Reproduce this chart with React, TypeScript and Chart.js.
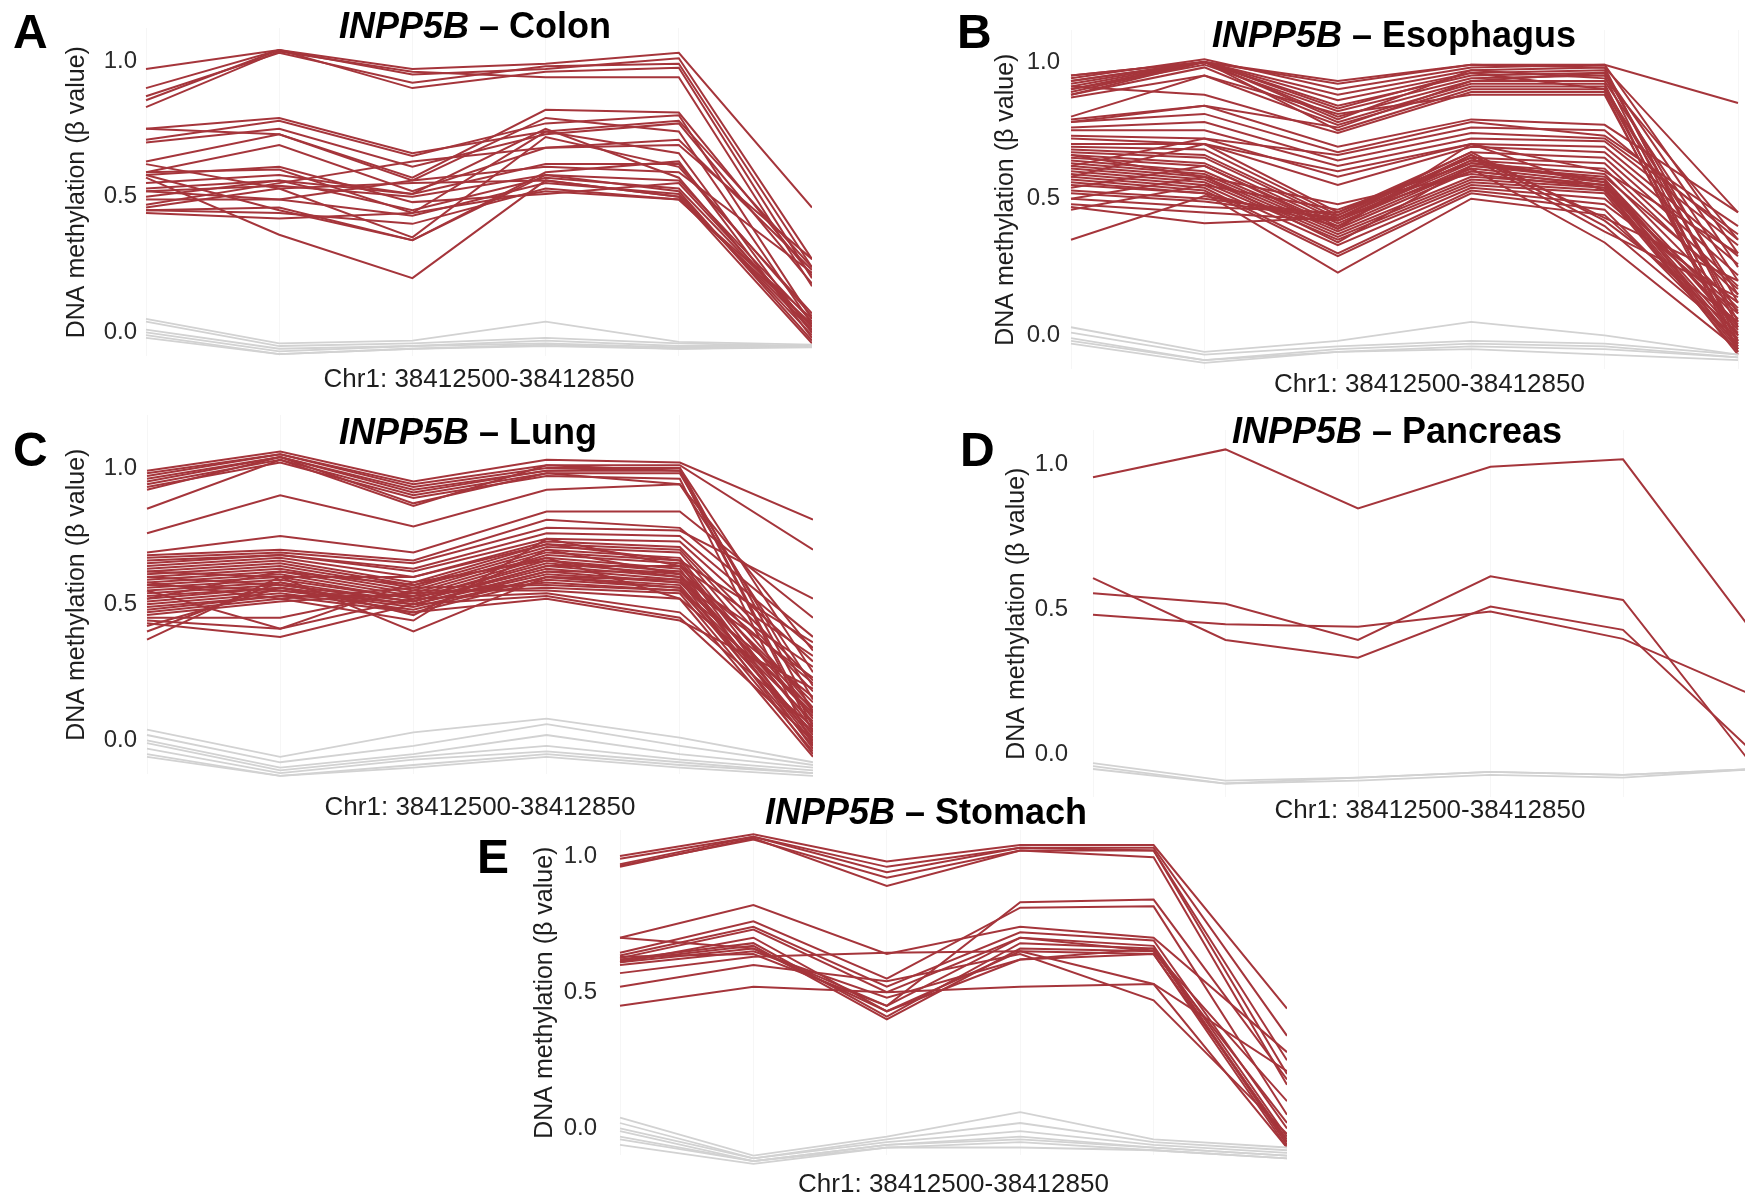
import React, { useEffect, useRef } from 'react';
import { Chart, registerables } from 'chart.js';

Chart.register(...registerables);

const FONT = "'Liberation Sans', Arial, Helvetica, sans-serif";
const RED = '#a5353b';
const GRAY = '#d2d2d2';

const gene = 'INPP5B';
const tissues = ['Colon', 'Esophagus', 'Lung', 'Pancreas', 'Stomach'];
const panelLetters = ['A', 'B', 'C', 'D', 'E'];
const xAxisLabel = 'Chr1: 38412500-38412850';
const yAxisLabel = 'DNA methylation (β value)';
const cpgIndex = [1, 2, 3, 4, 5, 6];
const yTickValues = [0, 0.5, 1];

// ---------- Colon ----------
const colonHigh: number[][] = [
  [0.97, 1.04, 0.97, 0.99, 1.03, 0.46],
  [0.90, 1.04, 0.95, 0.97, 1.01, 0.27],
  [0.87, 1.03, 0.92, 0.98, 0.99, 0.24],
  [0.855, 1.04, 0.90, 0.96, 0.975, 0.20],
  [0.83, 1.035, 0.96, 0.94, 0.94, 0.17],
  [0.75, 0.79, 0.66, 0.74, 0.78, 0.24],
  [0.75, 0.73, 0.57, 0.82, 0.81, 0.21],
  [0.71, 0.78, 0.65, 0.77, 0.80, 0.05],
  [0.70, 0.75, 0.61, 0.73, 0.77, 0.18],
  [0.63, 0.73, 0.56, 0.79, 0.74, 0.03],
  [0.59, 0.69, 0.52, 0.68, 0.71, 0.23],
  [0.59, 0.60, 0.44, 0.74, 0.66, 0.00],
  [0.58, 0.45, 0.34, 0.59, 0.63, -0.02],
  [0.57, 0.36, 0.20, 0.56, 0.50, -0.04],
  [0.53, 0.56, 0.51, 0.62, 0.62, 0.06],
  [0.52, 0.54, 0.50, 0.58, 0.56, 0.04],
  [0.50, 0.56, 0.45, 0.57, 0.53, 0.02],
  [0.49, 0.49, 0.43, 0.55, 0.51, -0.01],
  [0.46, 0.53, 0.55, 0.56, 0.50, 0.01],
  [0.45, 0.44, 0.40, 0.53, 0.49, 0.03],
  [0.45, 0.46, 0.34, 0.58, 0.52, -0.03],
  [0.44, 0.42, 0.44, 0.52, 0.49, 0.05],
  [0.62, 0.53, 0.35, 0.72, 0.61, 0.07],
  [0.58, 0.61, 0.48, 0.51, 0.55, 0.02],
  [0.52, 0.49, 0.56, 0.61, 0.59, 0.22],
  [0.47, 0.55, 0.63, 0.68, 0.69, 0.27],
  [0.55, 0.58, 0.51, 0.75, 0.57, 0.00],
];
const colonLow: number[][] = [
  [0.05, -0.04, -0.03, 0.04, -0.035, -0.045],
  [0.04, -0.05, -0.04, -0.02, -0.04, -0.05],
  [0.01, -0.06, -0.05, -0.03, -0.05, -0.05],
  [0.00, -0.07, -0.05, -0.04, -0.055, -0.05],
  [-0.01, -0.08, -0.06, -0.05, -0.06, -0.055],
  [-0.02, -0.08, -0.06, -0.045, -0.06, -0.05],
];

// ---------- Esophagus ----------
const esophagusHigh: number[][] = [
  [0.95, 1.00, 0.92, 0.99, 0.99, 0.85],
  [0.94, 1.01, 0.90, 0.98, 0.99, 0.30],
  [0.93, 1.00, 0.88, 0.97, 0.98, 0.45],
  [0.92, 1.00, 0.86, 0.96, 0.97, 0.05],
  [0.91, 1.00, 0.84, 0.95, 0.96, 0.12],
  [0.90, 0.99, 0.82, 0.94, 0.95, -0.02],
  [0.89, 1.00, 0.80, 0.93, 0.93, 0.20],
  [0.88, 0.98, 0.78, 0.92, 0.92, -0.05],
  [0.87, 0.95, 0.77, 0.91, 0.91, 0.08],
  [0.93, 1.00, 0.75, 0.90, 0.90, 0.00],
  [0.91, 0.88, 0.74, 0.89, 0.89, -0.06],
  [0.95, 1.00, 0.79, 0.97, 0.94, 0.35],
  [0.90, 1.00, 0.93, 0.99, 0.98, 0.03],
  [0.88, 1.00, 0.83, 0.96, 0.90, 0.15],
  [0.80, 0.95, 0.81, 0.88, 0.88, -0.03],
  [0.78, 0.84, 0.76, 0.93, 0.96, 0.25],
  [0.79, 0.84, 0.69, 0.79, 0.77, 0.45],
  [0.78, 0.81, 0.67, 0.78, 0.73, 0.40],
  [0.76, 0.78, 0.64, 0.74, 0.72, 0.37],
  [0.75, 0.75, 0.62, 0.72, 0.71, 0.33],
  [0.73, 0.72, 0.58, 0.70, 0.69, 0.29],
  [0.72, 0.70, 0.55, 0.69, 0.67, 0.26],
  [0.70, 0.70, 0.45, 0.67, 0.65, 0.22],
  [0.69, 0.68, 0.44, 0.65, 0.63, 0.18],
  [0.68, 0.66, 0.43, 0.64, 0.61, 0.15],
  [0.67, 0.65, 0.42, 0.63, 0.59, 0.10],
  [0.66, 0.63, 0.41, 0.62, 0.57, 0.06],
  [0.65, 0.62, 0.40, 0.61, 0.56, 0.03],
  [0.64, 0.60, 0.39, 0.60, 0.55, 0.00],
  [0.63, 0.59, 0.38, 0.58, 0.55, -0.02],
  [0.62, 0.58, 0.37, 0.57, 0.54, -0.04],
  [0.61, 0.57, 0.36, 0.56, 0.53, -0.05],
  [0.60, 0.56, 0.35, 0.55, 0.52, -0.06],
  [0.59, 0.55, 0.33, 0.54, 0.50, 0.08],
  [0.58, 0.54, 0.30, 0.53, 0.48, 0.12],
  [0.57, 0.53, 0.29, 0.52, 0.46, -0.03],
  [0.56, 0.52, 0.23, 0.50, 0.44, 0.01],
  [0.55, 0.52, 0.40, 0.66, 0.43, 0.20],
  [0.53, 0.50, 0.44, 0.67, 0.42, 0.05],
  [0.52, 0.49, 0.43, 0.66, 0.40, -0.01],
  [0.50, 0.47, 0.45, 0.65, 0.38, 0.14],
  [0.48, 0.45, 0.42, 0.61, 0.34, -0.05],
  [0.47, 0.41, 0.43, 0.60, 0.55, 0.04],
  [0.46, 0.55, 0.46, 0.63, 0.57, 0.02],
  [0.35, 0.51, 0.42, 0.64, 0.56, -0.04],
  [0.58, 0.70, 0.60, 0.70, 0.60, 0.30],
  [0.62, 0.72, 0.66, 0.76, 0.75, 0.35],
  [0.54, 0.62, 0.39, 0.70, 0.53, 0.09],
  [0.66, 0.58, 0.48, 0.59, 0.54, -0.07],
  [0.50, 0.58, 0.34, 0.62, 0.58, 0.17],
];
const esophagusLow: number[][] = [
  [0.03, -0.06, -0.02, 0.05, 0.00, -0.07],
  [0.01, -0.07, -0.04, -0.02, -0.03, -0.07],
  [-0.01, -0.09, -0.05, -0.03, -0.04, -0.08],
  [-0.02, -0.09, -0.06, -0.04, -0.05, -0.08],
  [-0.03, -0.10, -0.06, -0.05, -0.07, -0.09],
];

// ---------- Lung ----------
const lungHigh: number[][] = [
  [0.99, 1.06, 0.95, 1.03, 1.02, 0.81],
  [0.98, 1.05, 0.94, 1.01, 1.01, 0.70],
  [0.97, 1.05, 0.93, 1.00, 1.00, 0.25],
  [0.96, 1.04, 0.92, 0.99, 1.00, 0.10],
  [0.95, 1.04, 0.91, 0.99, 0.99, 0.03],
  [0.94, 1.03, 0.90, 0.98, 0.98, 0.15],
  [0.93, 1.02, 0.89, 0.97, 0.96, -0.02],
  [0.92, 1.04, 0.87, 0.98, 0.94, 0.20],
  [0.85, 1.03, 0.86, 1.01, 0.99, 0.05],
  [0.76, 0.90, 0.785, 0.92, 0.94, 0.33],
  [0.69, 0.75, 0.69, 0.84, 0.84, 0.45],
  [0.68, 0.70, 0.66, 0.81, 0.78, 0.38],
  [0.67, 0.69, 0.65, 0.78, 0.77, 0.52],
  [0.66, 0.68, 0.63, 0.76, 0.75, 0.34],
  [0.65, 0.68, 0.62, 0.74, 0.73, 0.29],
  [0.64, 0.67, 0.60, 0.73, 0.71, 0.22],
  [0.63, 0.66, 0.58, 0.72, 0.70, 0.18],
  [0.62, 0.65, 0.57, 0.71, 0.69, 0.12],
  [0.61, 0.64, 0.56, 0.70, 0.67, 0.08],
  [0.60, 0.63, 0.55, 0.69, 0.66, 0.04],
  [0.59, 0.62, 0.54, 0.68, 0.65, 0.00],
  [0.58, 0.61, 0.53, 0.67, 0.63, -0.03],
  [0.57, 0.60, 0.52, 0.66, 0.62, 0.14],
  [0.56, 0.59, 0.52, 0.65, 0.61, 0.06],
  [0.55, 0.58, 0.51, 0.64, 0.60, 0.02],
  [0.54, 0.57, 0.51, 0.63, 0.59, -0.05],
  [0.53, 0.56, 0.50, 0.62, 0.58, 0.10],
  [0.52, 0.56, 0.50, 0.61, 0.58, 0.23],
  [0.51, 0.55, 0.49, 0.60, 0.57, 0.01],
  [0.50, 0.54, 0.48, 0.60, 0.56, -0.02],
  [0.49, 0.53, 0.47, 0.59, 0.56, 0.07],
  [0.48, 0.53, 0.53, 0.58, 0.55, 0.16],
  [0.47, 0.52, 0.56, 0.57, 0.55, 0.03],
  [0.46, 0.51, 0.54, 0.56, 0.54, -0.04],
  [0.45, 0.45, 0.55, 0.55, 0.52, 0.12],
  [0.44, 0.41, 0.52, 0.54, 0.47, 0.05],
  [0.43, 0.38, 0.50, 0.53, 0.45, 0.00],
  [0.42, 0.56, 0.47, 0.52, 0.44, 0.19],
  [0.40, 0.58, 0.46, 0.70, 0.61, -0.01],
  [0.37, 0.60, 0.40, 0.60, 0.59, 0.09],
  [0.55, 0.41, 0.58, 0.66, 0.60, 0.27],
  [0.58, 0.52, 0.44, 0.74, 0.64, 0.31],
  [0.62, 0.60, 0.60, 0.72, 0.66, 0.36],
  [0.52, 0.62, 0.57, 0.67, 0.52, -0.06],
  [0.57, 0.55, 0.50, 0.62, 0.62, 0.21],
  [0.60, 0.57, 0.51, 0.64, 0.64, 0.11],
];
const lungLow: number[][] = [
  [0.04, -0.06, 0.03, 0.08, 0.01, -0.08],
  [0.02, -0.08, -0.02, 0.06, -0.02, -0.09],
  [0.00, -0.10, -0.05, 0.02, -0.05, -0.10],
  [-0.01, -0.11, -0.06, -0.02, -0.07, -0.11],
  [-0.03, -0.12, -0.07, -0.04, -0.08, -0.12],
  [-0.05, -0.13, -0.09, -0.05, -0.09, -0.12],
  [-0.06, -0.13, -0.10, -0.06, -0.10, -0.13],
];

// ---------- Pancreas ----------
const pancreasHigh: number[][] = [
  [0.954, 1.05, 0.847, 0.99, 1.016, 0.41],
  [0.607, 0.394, 0.333, 0.509, 0.429, 0.0],
  [0.555, 0.519, 0.394, 0.613, 0.532, -0.05],
  [0.481, 0.448, 0.44, 0.492, 0.398, 0.2],
];
const pancreasLow: number[][] = [
  [-0.03, -0.09, -0.08, -0.06, -0.07, -0.05],
  [-0.04, -0.10, -0.08, -0.06, -0.07, -0.05],
  [-0.05, -0.10, -0.09, -0.07, -0.08, -0.05],
];

// ---------- Stomach ----------
const stomachHigh: number[][] = [
  [1.00, 1.08, 0.98, 1.04, 1.04, 0.44],
  [0.99, 1.07, 0.96, 1.03, 1.03, 0.34],
  [0.97, 1.07, 0.94, 1.03, 1.02, 0.25],
  [0.965, 1.06, 0.92, 1.02, 1.02, 0.20],
  [0.96, 1.065, 0.89, 1.02, 0.995, 0.16],
  [0.70, 0.82, 0.64, 0.74, 0.70, 0.28],
  [0.70, 0.66, 0.45, 0.83, 0.84, 0.18],
  [0.645, 0.76, 0.55, 0.81, 0.815, 0.05],
  [0.635, 0.74, 0.52, 0.72, 0.69, 0.00],
  [0.625, 0.73, 0.50, 0.70, 0.67, -0.03],
  [0.62, 0.68, 0.41, 0.68, 0.66, -0.05],
  [0.615, 0.67, 0.40, 0.66, 0.65, 0.02],
  [0.61, 0.66, 0.43, 0.65, 0.64, -0.07],
  [0.60, 0.65, 0.48, 0.62, 0.66, -0.06],
  [0.57, 0.63, 0.645, 0.65, 0.53, 0.21],
  [0.52, 0.60, 0.54, 0.64, 0.47, -0.02],
  [0.45, 0.52, 0.50, 0.52, 0.53, -0.07],
  [0.63, 0.64, 0.45, 0.70, 0.65, 0.10],
  [0.61, 0.70, 0.43, 0.62, 0.64, -0.04],
];
const stomachLow: number[][] = [
  [0.04, -0.10, -0.03, 0.06, -0.04, -0.07],
  [0.02, -0.11, -0.04, 0.02, -0.05, -0.08],
  [0.00, -0.11, -0.05, -0.01, -0.06, -0.09],
  [-0.01, -0.12, -0.06, -0.03, -0.07, -0.10],
  [-0.03, -0.12, -0.06, -0.04, -0.07, -0.10],
  [-0.04, -0.12, -0.07, -0.05, -0.08, -0.11],
  [-0.06, -0.13, -0.07, -0.07, -0.08, -0.11],
];

type Layout = {
  yTitleX: number; left: number; step: number; right: number;
  top: number; bottom: number; y0: number; y1: number;
  xTitleY: number; tickPad: number;
  letterX: number; letterY: number; titleX: number; titleY: number;
};

const layouts: Layout[] = [
  { yTitleX: 77, left: 146, step: 133.2, right: 812, top: 28, bottom: 357, y0: 333, y1: 61, xTitleY: 380, tickPad: 9, letterX: 13, letterY: 48, titleX: 475, titleY: 38 },
  { yTitleX: 1006, left: 1071, step: 133.4, right: 1788, top: 30, bottom: 370, y0: 336, y1: 62, xTitleY: 385, tickPad: 11, letterX: 957, letterY: 48, titleX: 1394, titleY: 47 },
  { yTitleX: 77, left: 147, step: 133.2, right: 813, top: 415, bottom: 775, y0: 741, y1: 468, xTitleY: 808, tickPad: 10, letterX: 13, letterY: 466, titleX: 468, titleY: 444 },
  { yTitleX: 1017, left: 1093, step: 132.5, right: 1767, top: 430, bottom: 798, y0: 755, y1: 464, xTitleY: 811, tickPad: 25, letterX: 960, letterY: 466, titleX: 1397, titleY: 443 },
  { yTitleX: 545, left: 620, step: 133.4, right: 1287, top: 830, bottom: 1156, y0: 1129, y1: 856, xTitleY: 1185, tickPad: 23, letterX: 477, letterY: 873, titleX: 926, titleY: 824 },
];

const panelData = [
  { high: colonHigh, low: colonLow },
  { high: esophagusHigh, low: esophagusLow },
  { high: lungHigh, low: lungLow },
  { high: pancreasHigh, low: pancreasLow },
  { high: stomachHigh, low: stomachLow },
];

function Panel({ high, low, lay }: { high: number[][]; low: number[][]; lay: Layout }) {
  const ref = useRef<HTMLCanvasElement | null>(null);
  const canvasLeft = lay.yTitleX - 15;
  const canvasTop = lay.top;
  const width = Math.round(lay.right - canvasLeft);
  const height = Math.round(lay.xTitleY + 15 - lay.top);

  useEffect(() => {
    if (!ref.current) return;
    const span = lay.y0 - lay.y1;
    const yMax = (lay.y0 - lay.top) / span;
    const yMin = -(lay.bottom - lay.y0) / span;
    const xMax = 1 + (lay.right - lay.left) / lay.step;
    const mk = (row: number[], color: string, w: number) => ({
      data: row.map((v, i) => ({ x: cpgIndex[i], y: v })),
      borderColor: color,
      backgroundColor: color,
      borderWidth: w,
      pointRadius: 0,
      fill: false,
      tension: 0,
      clip: false as any,
    });
    const datasets = [
      ...low.map((r) => mk(r, GRAY, 1.8)),
      ...high.map((r) => mk(r, RED, 2)),
    ];
    const chart = new Chart(ref.current, {
      type: 'line',
      data: { datasets },
      options: {
        animation: false,
        responsive: false,
        maintainAspectRatio: false,
        devicePixelRatio: 1,
        events: [],
        layout: { padding: 0 },
        plugins: { legend: { display: false }, tooltip: { enabled: false }, title: { display: false } },
        scales: {
          x: {
            type: 'linear',
            min: 1,
            max: xMax,
            afterBuildTicks: (s: any) => { s.ticks = cpgIndex.map((v) => ({ value: v })); },
            ticks: { display: false },
            grid: { color: 'rgba(0,0,0,0.035)', drawTicks: false, lineWidth: 1 },
            border: { display: false },
            title: { display: true, text: xAxisLabel, color: '#1e1e1e', padding: 0, font: { family: FONT, size: 26, lineHeight: 1.2 } },
            afterFit: (s: any) => { s.height = lay.xTitleY + 15.6 - lay.bottom; s.paddingLeft = 0; s.paddingRight = 0; },
          },
          y: {
            type: 'linear',
            min: yMin,
            max: yMax,
            afterBuildTicks: (s: any) => { s.ticks = yTickValues.map((v) => ({ value: v })); },
            ticks: { color: '#2a2a2a', padding: lay.tickPad, font: { family: FONT, size: 24 }, callback: (v: any) => Number(v).toFixed(1) },
            grid: { display: false, drawTicks: false },
            border: { display: false },
            title: { display: true, text: yAxisLabel, color: '#1e1e1e', padding: 0, font: { family: FONT, size: 25, lineHeight: 1.2 } },
            afterFit: (s: any) => { s.width = lay.left - canvasLeft; s.paddingTop = 0; s.paddingBottom = 0; },
          },
        },
      },
    } as any);
    return () => chart.destroy();
  }, []);

  return (
    <canvas
      ref={ref}
      width={width}
      height={height}
      style={{ position: 'absolute', left: canvasLeft, top: canvasTop, width, height }}
    />
  );
}

export default function App() {
  return (
    <div style={{ position: 'absolute', left: 0, top: 0, width: 1745, height: 1200, overflow: 'hidden', background: '#ffffff' }}>
      {layouts.map((lay, i) => (
        <Panel key={i} high={panelData[i].high} low={panelData[i].low} lay={lay} />
      ))}
      <svg width={1745} height={1200} style={{ position: 'absolute', left: 0, top: 0, pointerEvents: 'none' }}>
        {layouts.map((lay, i) => (
          <g key={i} fontFamily={FONT} fill="#000">
            <text x={lay.letterX} y={lay.letterY} fontSize={48} fontWeight="bold">{panelLetters[i]}</text>
            <text x={lay.titleX} y={lay.titleY} fontSize={36} fontWeight="bold" textAnchor="middle">
              <tspan fontStyle="italic">{gene}</tspan>
              <tspan>{' – ' + tissues[i]}</tspan>
            </text>
          </g>
        ))}
      </svg>
    </div>
  );
}
